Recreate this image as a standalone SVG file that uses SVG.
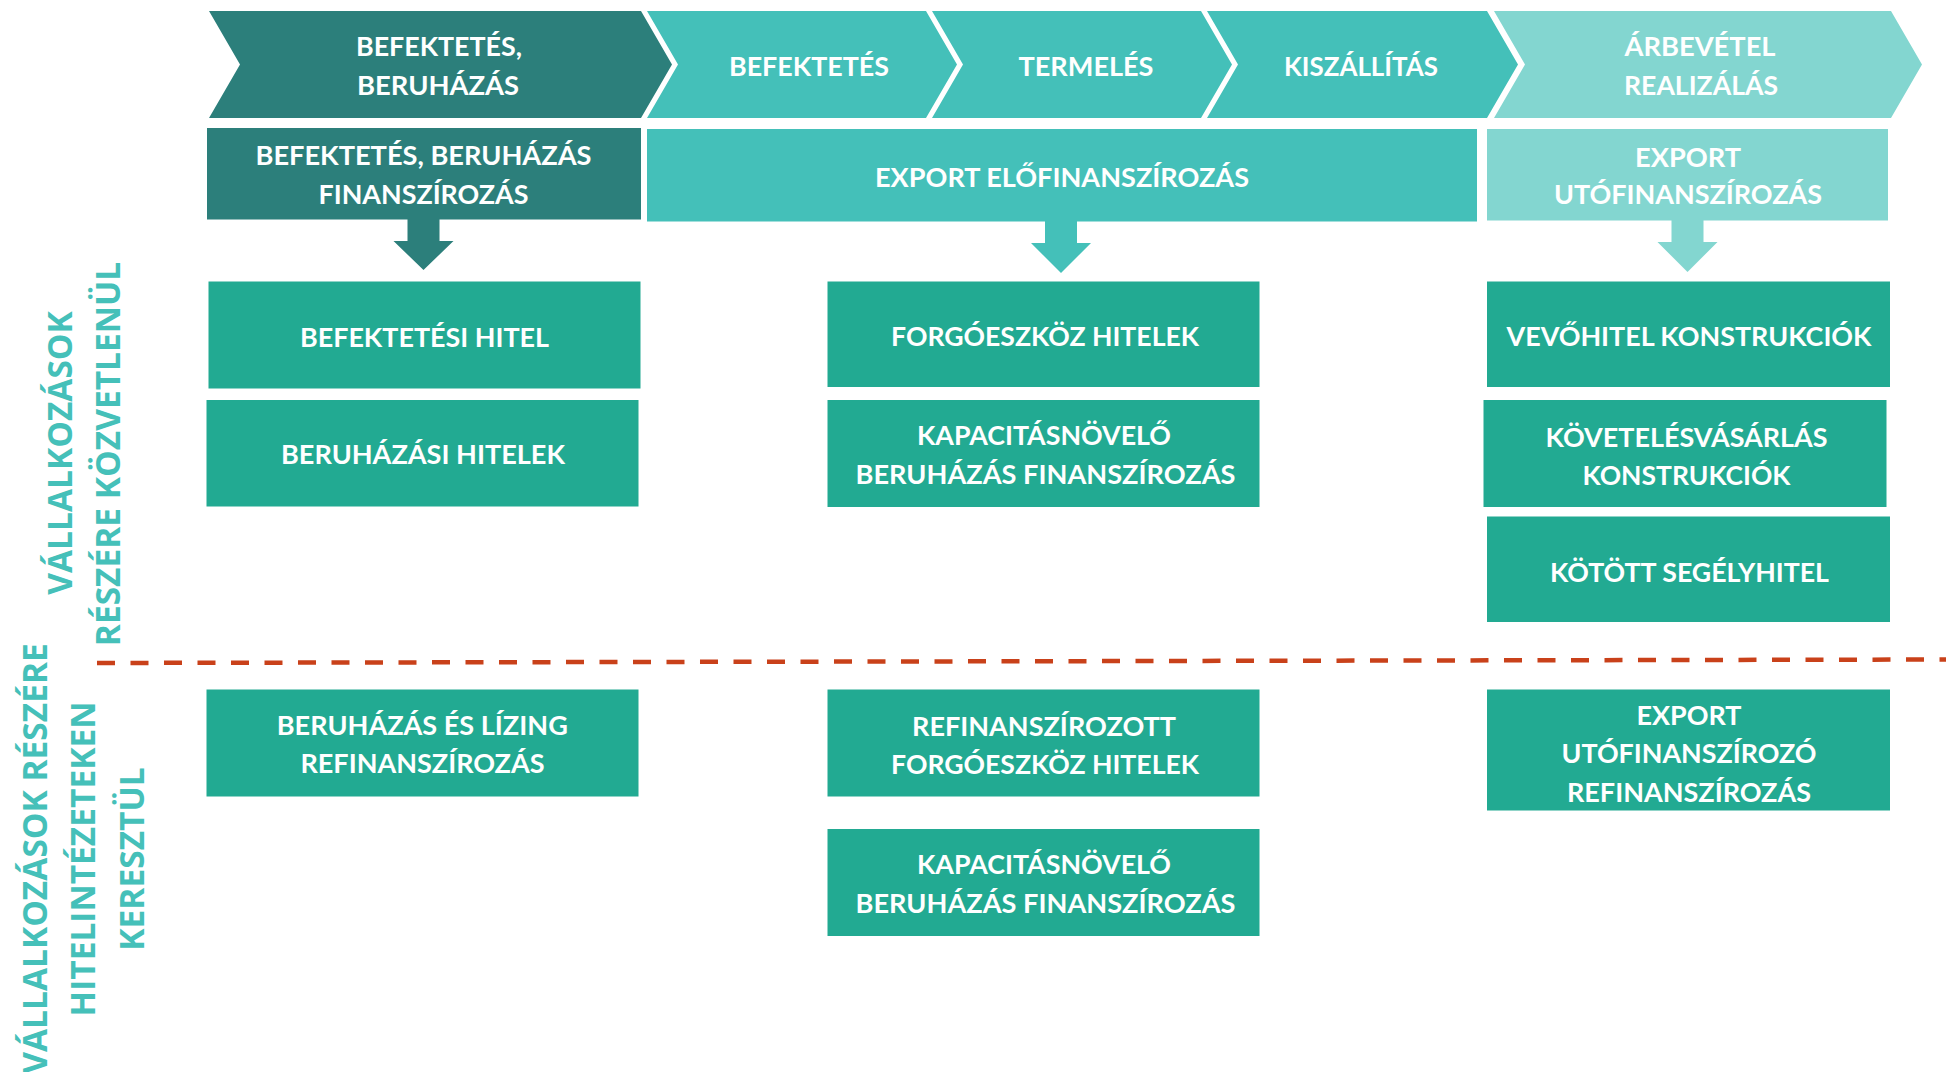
<svg xmlns="http://www.w3.org/2000/svg" width="1946" height="1072" viewBox="0 0 1946 1072">
<style>
.t{font-family:Lato,"Liberation Sans",sans-serif;font-weight:700;font-size:27px;fill:#ffffff;text-anchor:middle}
.v{font-family:"Open Sans","Liberation Sans",sans-serif;font-weight:700;font-size:33.5px;fill:#45C0B9;text-anchor:middle}
.dark{fill:#2C7F7B}
.mid{fill:#44C0B9}
.light{fill:#83D6D0}
.box{fill:#22AA92}
.dash{stroke:#C9411A;stroke-width:4.5;stroke-dasharray:18 15.5;fill:none}
</style>
<rect width="1946" height="1072" fill="#ffffff"/>

<g id="chevron-befektetes-beruhazas">
<polygon class="dark" points="209,11 641,11 672,64.5 641,118 209,118 240,64.5"/>
<text class="t" x="439" y="56" textLength="166" lengthAdjust="spacingAndGlyphs">BEFEKTETÉS,</text>
<text class="t" x="438" y="95" textLength="162" lengthAdjust="spacingAndGlyphs">BERUHÁZÁS</text>
</g>
<g id="chevron-befektetes">
<polygon class="mid" points="647,11 926,11 957,64.5 926,118 647,118 678,64.5"/>
<text class="t" x="809" y="76" textLength="160" lengthAdjust="spacingAndGlyphs">BEFEKTETÉS</text>
</g>
<g id="chevron-termeles">
<polygon class="mid" points="932,11 1201,11 1232,64.5 1201,118 932,118 963,64.5"/>
<text class="t" x="1086" y="76" textLength="135" lengthAdjust="spacingAndGlyphs">TERMELÉS</text>
</g>
<g id="chevron-kiszallitas">
<polygon class="mid" points="1207,11 1487,11 1518,64.5 1487,118 1207,118 1238,64.5"/>
<text class="t" x="1361" y="76" textLength="154" lengthAdjust="spacingAndGlyphs">KISZÁLLÍTÁS</text>
</g>
<g id="chevron-arbevetel">
<polygon class="light" points="1494,11 1891,11 1922,64.5 1891,118 1494,118 1525,64.5"/>
<text class="t" x="1700" y="56" textLength="151" lengthAdjust="spacingAndGlyphs">ÁRBEVÉTEL</text>
<text class="t" x="1701" y="95" textLength="154" lengthAdjust="spacingAndGlyphs">REALIZÁLÁS</text>
</g>

<g id="hdr-befektetes-finansz">
<rect class="dark" x="207" y="128" width="434" height="91.5"/>
<text class="t" x="423.5" y="165" textLength="336" lengthAdjust="spacingAndGlyphs">BEFEKTETÉS, BERUHÁZÁS</text>
<text class="t" x="423.5" y="204" textLength="210" lengthAdjust="spacingAndGlyphs">FINANSZÍROZÁS</text>
</g>
<g id="hdr-export-elofinansz">
<rect class="mid" x="647" y="129" width="830" height="92.5"/>
<text class="t" x="1062" y="186.5" textLength="374" lengthAdjust="spacingAndGlyphs">EXPORT ELŐFINANSZÍROZÁS</text>
</g>
<g id="hdr-export-utofinansz">
<rect class="light" x="1487" y="129" width="401" height="91.5"/>
<text class="t" x="1688" y="167" textLength="106" lengthAdjust="spacingAndGlyphs">EXPORT</text>
<text class="t" x="1688" y="204" textLength="268" lengthAdjust="spacingAndGlyphs">UTÓFINANSZÍROZÁS</text>
</g>

<g id="connectors">
<polygon class="dark" points="407.5,219 439.5,219 439.5,241 453.5,241 423.5,270 393.5,241 407.5,241"/>
<polygon class="mid" points="1045,221 1077,221 1077,243 1091,243 1061,273 1031,243 1045,243"/>
<polygon class="light" points="1671.5,220 1703.5,220 1703.5,242 1717.5,242 1687.5,272 1657.5,242 1671.5,242"/>
</g>

<g id="box-befektetesi-hitel">
<rect class="box" x="208.5" y="281.5" width="432" height="107"/>
<text class="t" x="424.5" y="346.5" textLength="249" lengthAdjust="spacingAndGlyphs">BEFEKTETÉSI HITEL</text>
</g>
<g id="box-beruhazasi-hitelek">
<rect class="box" x="206.5" y="400" width="432" height="106.5"/>
<text class="t" x="423" y="464" textLength="284" lengthAdjust="spacingAndGlyphs">BERUHÁZÁSI HITELEK</text>
</g>
<g id="box-forgoeszkoz-hitelek">
<rect class="box" x="827.5" y="281.5" width="432" height="105.5"/>
<text class="t" x="1045" y="346" textLength="308" lengthAdjust="spacingAndGlyphs">FORGÓESZKÖZ HITELEK</text>
</g>
<g id="box-kapacitasnovelo-1">
<rect class="box" x="827.5" y="400" width="432" height="107"/>
<text class="t" x="1044" y="445" textLength="254" lengthAdjust="spacingAndGlyphs">KAPACITÁSNÖVELŐ</text>
<text class="t" x="1045.5" y="483.5" textLength="380" lengthAdjust="spacingAndGlyphs">BERUHÁZÁS FINANSZÍROZÁS</text>
</g>
<g id="box-vevohitel">
<rect class="box" x="1487" y="281.5" width="403" height="105.5"/>
<text class="t" x="1689" y="346" textLength="365" lengthAdjust="spacingAndGlyphs">VEVŐHITEL KONSTRUKCIÓK</text>
</g>
<g id="box-kovetelesvasarlas">
<rect class="box" x="1483.5" y="400" width="403" height="107"/>
<text class="t" x="1686.5" y="446.5" textLength="282" lengthAdjust="spacingAndGlyphs">KÖVETELÉSVÁSÁRLÁS</text>
<text class="t" x="1686.5" y="485" textLength="208" lengthAdjust="spacingAndGlyphs">KONSTRUKCIÓK</text>
</g>
<g id="box-kotott-segelyhitel">
<rect class="box" x="1487" y="516.5" width="403" height="105.5"/>
<text class="t" x="1689.5" y="581.5" textLength="279" lengthAdjust="spacingAndGlyphs">KÖTÖTT SEGÉLYHITEL</text>
</g>

<g id="divider">
<line class="dash" x1="97" y1="663" x2="1946" y2="659.5"/>
</g>

<g id="box-beruhazas-lizing">
<rect class="box" x="206.5" y="689.5" width="432" height="107"/>
<text class="t" x="422.3" y="735" textLength="291" lengthAdjust="spacingAndGlyphs">BERUHÁZÁS ÉS LÍZING</text>
<text class="t" x="422.5" y="773.3" textLength="244" lengthAdjust="spacingAndGlyphs">REFINANSZÍROZÁS</text>
</g>
<g id="box-refinanszirozott">
<rect class="box" x="827.5" y="689.5" width="432" height="107"/>
<text class="t" x="1044" y="736" textLength="264" lengthAdjust="spacingAndGlyphs">REFINANSZÍROZOTT</text>
<text class="t" x="1045" y="774.3" textLength="308" lengthAdjust="spacingAndGlyphs">FORGÓESZKÖZ HITELEK</text>
</g>
<g id="box-kapacitasnovelo-2">
<rect class="box" x="827.5" y="829" width="432" height="107"/>
<text class="t" x="1044" y="874.3" textLength="254" lengthAdjust="spacingAndGlyphs">KAPACITÁSNÖVELŐ</text>
<text class="t" x="1045.5" y="913.3" textLength="380" lengthAdjust="spacingAndGlyphs">BERUHÁZÁS FINANSZÍROZÁS</text>
</g>
<g id="box-export-utofinanszirozo">
<rect class="box" x="1487" y="689.5" width="403" height="121"/>
<text class="t" x="1689" y="725" textLength="105" lengthAdjust="spacingAndGlyphs">EXPORT</text>
<text class="t" x="1689" y="763.3" textLength="255" lengthAdjust="spacingAndGlyphs">UTÓFINANSZÍROZÓ</text>
<text class="t" x="1689" y="801.7" textLength="244" lengthAdjust="spacingAndGlyphs">REFINANSZÍROZÁS</text>
</g>

<g id="label-kozvetlenul">
<text class="v" transform="translate(71.5,453) rotate(-90)">VÁLLALKOZÁSOK</text>
<text class="v" transform="translate(119.5,454) rotate(-90)">RÉSZÉRE KÖZVETLENÜL</text>
</g>
<g id="label-hitelintezeteken">
<text class="v" transform="translate(47,858.5) rotate(-90)">VÁLLALKOZÁSOK RÉSZÉRE</text>
<text class="v" transform="translate(94.5,859) rotate(-90)">HITELINTÉZETEKEN</text>
<text class="v" transform="translate(143.5,859) rotate(-90)">KERESZTÜL</text>
</g>
</svg>
